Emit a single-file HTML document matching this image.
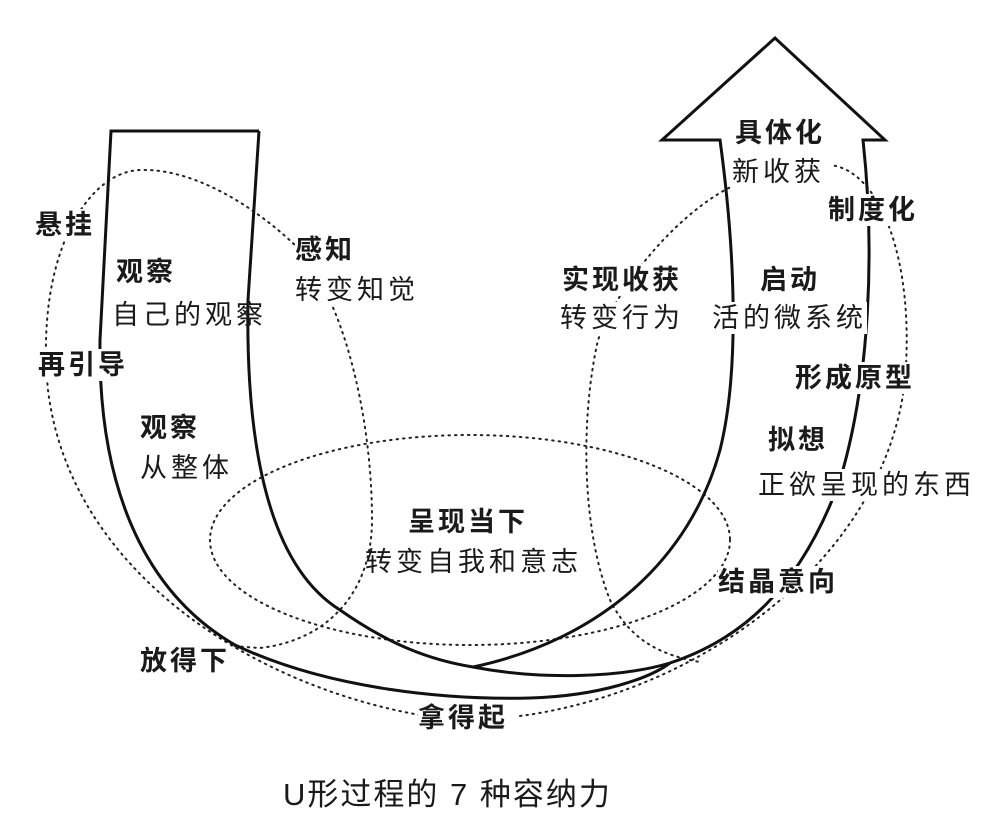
<!DOCTYPE html>
<html><head><meta charset="utf-8"><style>
html,body{margin:0;padding:0;background:#fff;}
#c{position:relative;width:1000px;height:832px;overflow:hidden;background:#fff;font-family:"Liberation Sans","Noto Sans CJK SC",sans-serif;color:#1a1a1a;}
.t{position:absolute;font-size:27px;line-height:32px;white-space:nowrap;letter-spacing:3px;}
.b{font-weight:bold;}
.r{font-weight:normal;letter-spacing:4px;}
.w{background:#fff;}
</style></head><body><div id="c">
<svg width="1000" height="832" style="position:absolute;left:0;top:0">
<g fill="none" stroke="#222" stroke-width="2" stroke-dasharray="1.5 5" stroke-linecap="round">
<path d="M420,715 C250,685 70,570 48,390 C35,260 85,172 140,170 C200,168 265,215 300,250"/>
<path d="M325,290 C355,350 372,440 372,520 C372,590 330,640 260,648 L232,646"/>
<path d="M520,716 C700,692 885,560 905,380 C915,260 880,170 830,165"/>
<path d="M735,185 C690,205 625,270 598,340 C580,420 582,530 610,600 C630,640 660,655 700,662"/>
<ellipse cx="470" cy="540" rx="260" ry="105"/>
</g>
<g fill="none" stroke="#111" stroke-width="3" stroke-linejoin="miter">
<path d="M259,131 L111,131 L100,340 C98,480 140,590 235,645 C330,690 450,700 530,698 C600,696 650,678 670,663"/>
<path d="M259,131 L248,300 C246,420 260,560 340,610 C390,645 430,660 473,667 C540,680 620,678 670,663"/>
<path d="M473,667 C600,640 690,560 720,450 C740,370 735,250 720,140 L662,140 L775,38 L885,140 L863,140 C875,250 870,380 840,480 C800,590 740,640 670,663"/>
</g>
</svg>
<div class="t b w" style="left:35px;top:209px">悬挂</div>
<div class="t b" style="left:116px;top:256px">观察</div>
<div class="t r" style="left:112px;top:299px">自己的观察</div>
<div class="t b w" style="left:38px;top:349px">再引导</div>
<div class="t b" style="left:140px;top:412px">观察</div>
<div class="t r" style="left:140px;top:452px">从整体</div>
<div class="t b w" style="left:295px;top:234px">感知</div>
<div class="t r w" style="left:295px;top:274px">转变知觉</div>
<div class="t b" style="left:408px;top:506px">呈现当下</div>
<div class="t r" style="left:365px;top:546px">转变自我和意志</div>
<div class="t b w" style="left:140px;top:645px">放得下</div>
<div class="t b w" style="left:418px;top:702px">拿得起</div>
<div class="t b" style="left:735px;top:117px">具体化</div>
<div class="t r w" style="left:732px;top:156px">新收获</div>
<div class="t b w" style="left:828px;top:194px">制度化</div>
<div class="t b w" style="left:562px;top:264px">实现收获</div>
<div class="t r w" style="left:560px;top:302px">转变行为</div>
<div class="t b" style="left:760px;top:264px">启动</div>
<div class="t r w" style="left:712px;top:302px">活的微系统</div>
<div class="t b w" style="left:795px;top:362px">形成原型</div>
<div class="t b w" style="left:768px;top:424px">拟想</div>
<div class="t r w" style="left:758px;top:469px">正欲呈现的东西</div>
<div class="t b w" style="left:718px;top:566px">结晶意向</div>
<div class="t r" style="left:283px;top:776px;font-size:31px;line-height:38px;letter-spacing:2px">U形过程的 7 种容纳力</div>
</div></body></html>
